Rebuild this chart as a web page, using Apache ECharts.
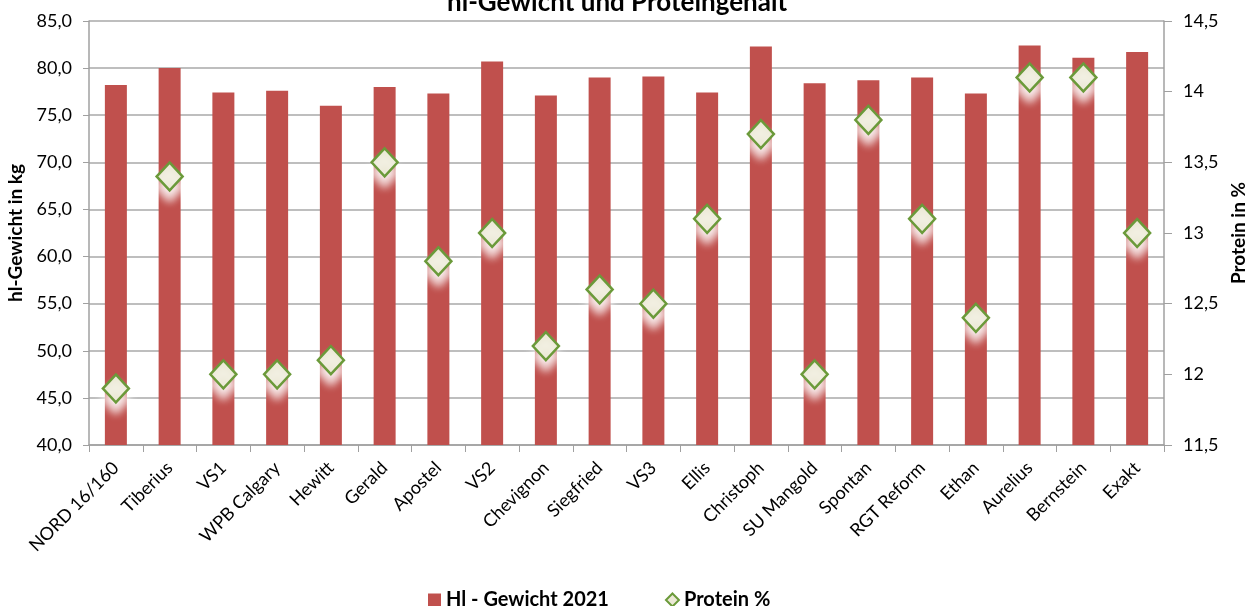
<!DOCTYPE html>
<html><head><meta charset="utf-8">
<script src="https://cdn.jsdelivr.net/npm/echarts@6/dist/echarts.min.js"></script>
<style>html,body{margin:0;padding:0;background:#fff}#c{width:1246px;height:606px}</style>
</head><body><div id="c"></div>
<script>
var categories = ["NORD 16/160","Tiberius","VS1","WPB Calgary","Hewitt","Gerald","Apostel","VS2","Chevignon","Siegfried","VS3","Ellis","Christoph","SU Mangold","Spontan","RGT Reform","Ethan","Aurelius","Bernstein","Exakt"];
var hlGewicht = [78.2,80.0,77.4,77.6,76.0,78.0,77.3,80.7,77.1,79.0,79.1,77.4,82.3,78.4,78.7,79.0,77.3,82.4,81.1,81.7];
var protein = [11.9,13.4,12.0,12.0,12.1,13.5,12.8,13.0,12.2,12.6,12.5,13.1,13.7,12.0,13.8,13.1,12.4,14.1,14.1,13.0];
var FONT = 'Lato, "Open Sans", sans-serif';
var chart = echarts.init(document.getElementById('c'));
chart.setOption({
  animation:false,
  title:{text:'hl-Gewicht und Proteingehalt',left:442,top:-15,
    textStyle:{fontFamily:FONT,fontSize:26,fontWeight:'bold',color:'#000'}},
  legend:{top:585,left:423,itemGap:56,itemWidth:13,itemHeight:13,
    textStyle:{fontFamily:FONT,fontSize:20,fontWeight:'bold',color:'#000'},
    data:[{name:'Hl - Gewicht 2021',icon:'rect'},{name:'Protein %',icon:'diamond',itemStyle:{color:'#ece9d6',borderColor:'#6b9a3a',borderWidth:2}}]},
  grid:{left:89,right:82,top:21,bottom:161,containLabel:false,outerBoundsMode:'none'},
  xAxis:{type:'category',data:categories,
    axisLine:{lineStyle:{color:'#a0a0a0',width:1.5}},
    axisTick:{show:true,length:7,lineStyle:{color:'#a0a0a0'}},
    axisLabel:{rotate:45,fontFamily:FONT,fontSize:18,color:'#000',interval:0,margin:20}},
  yAxis:[{type:'value',min:40,max:85,interval:5,name:'hl-Gewicht in kg',nameLocation:'middle',nameGap:62,nameRotate:90,
    nameTextStyle:{fontFamily:FONT,fontSize:19,fontWeight:'bold',color:'#000'},
    axisLine:{show:true,lineStyle:{color:'#a0a0a0',width:1.5}},
    axisTick:{show:true,length:6,lineStyle:{color:'#a0a0a0'}},
    splitLine:{lineStyle:{color:'#a8a8a8',width:1.5}},
    axisLabel:{fontFamily:FONT,fontSize:18,color:'#000',margin:17,formatter:function(v){return v.toFixed(1).replace('.',',');}}},
   {type:'value',min:11.5,max:14.5,interval:0.5,position:'right',name:'Protein in %',nameLocation:'middle',nameGap:63,nameRotate:90,
    nameTextStyle:{fontFamily:FONT,fontSize:19,fontWeight:'bold',color:'#000'},
    axisLine:{show:true,lineStyle:{color:'#a0a0a0',width:1.5}},
    axisTick:{show:true,length:8,lineStyle:{color:'#a0a0a0'}},
    splitLine:{show:false},
    axisLabel:{fontFamily:FONT,fontSize:18,color:'#000',margin:19,formatter:function(v){return String(v).replace('.',',');}}}],
  series:[
   {name:'Hl - Gewicht 2021',type:'bar',data:hlGewicht,barWidth:22,itemStyle:{color:'#c0504d'}},
   {name:'Protein %',type:'line',yAxisIndex:1,data:protein,symbol:'diamond',symbolSize:[26,28],
    lineStyle:{width:0,opacity:0},
    itemStyle:{color:'#ece9d6',borderColor:'#6b9a3a',borderWidth:2.5,shadowColor:'rgba(255,255,255,0.95)',shadowBlur:8,shadowOffsetY:10},
    z:3}
  ]
});
</script></body></html>
